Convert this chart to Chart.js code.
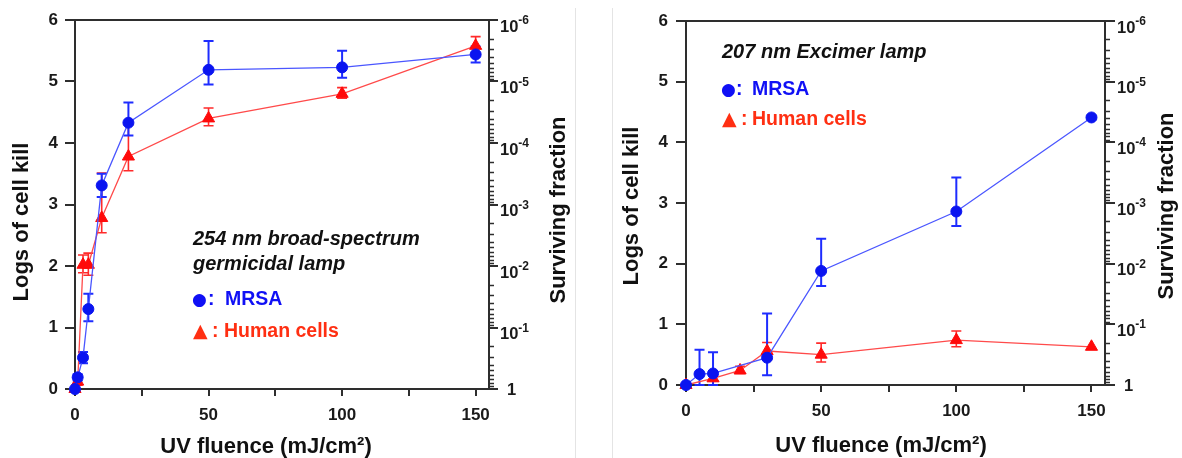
<!DOCTYPE html>
<html><head><meta charset="utf-8">
<script src="https://cdn.jsdelivr.net/npm/chart.js@4"></script>
<style>
html,body{margin:0;padding:0;background:#fff;}
#wrap{position:relative;width:1182px;height:458px;overflow:hidden;background:#fff;}
.panel{position:absolute;top:0;height:458px;width:577px;}
#p1{left:0;} #p2{left:605px;}
.sep{position:absolute;top:8px;bottom:0;width:1px;background:#e4e4e4;}
</style></head><body>
<div id="wrap">
<div class="panel" id="p1"><canvas id="c1" width="577" height="458" style="width:577px;height:458px"></canvas></div>
<div class="panel" id="p2"><canvas id="c2" width="577" height="458" style="width:577px;height:458px"></canvas></div>
<div class="sep" style="left:575px"></div>
<div class="sep" style="left:612px"></div>
</div>
<script>
// ---------- data: 254 nm broad-spectrum germicidal lamp ----------
const fluence254Mrsa  = [0, 1, 3, 5, 10, 20, 50, 100, 150];
const kill254Mrsa     = [0, 0.19, 0.51, 1.30, 3.31, 4.33, 5.19, 5.23, 5.44];
const hi254Mrsa       = [null, 0.24, 0.60, 1.55, 3.50, 4.66, 5.66, 5.50, 5.57];
const lo254Mrsa       = [null, 0.14, 0.42, 1.10, 3.12, 4.12, 4.95, 5.06, 5.31];
const fluence254Human = [0, 1, 3, 5, 10, 20, 50, 100, 150];
const kill254Human    = [0, 0.12, 2.02, 2.02, 2.78, 3.78, 4.40, 4.80, 5.58];
const hi254Human      = [null, 0.18, 2.18, 2.21, 3.51, 4.30, 4.57, 4.90, 5.73];
const lo254Human      = [null, 0.06, 1.89, 1.85, 2.54, 3.55, 4.28, 4.73, 5.45];
// ---------- data: 207 nm Excimer lamp ----------
const fluence207Mrsa  = [0, 5, 10, 30, 50, 100, 150];
const kill207Mrsa     = [0, 0.18, 0.19, 0.45, 1.88, 2.86, 4.41];
const hi207Mrsa       = [null, 0.58, 0.54, 1.18, 2.41, 3.42, 4.44];
const lo207Mrsa       = [null, 0, 0, 0.16, 1.63, 2.62, 4.38];
const fluence207Human = [0, 10, 20, 30, 50, 100, 150];
const kill207Human    = [0, 0.11, 0.24, 0.56, 0.50, 0.74, 0.63];
const hi207Human      = [null, 0.15, 0.31, 0.70, 0.69, 0.89, null];
const lo207Human      = [null, 0.07, 0.19, 0.42, 0.38, 0.63, null];
// ---------- ticks ----------
const xTicks        = [0, 25, 50, 75, 100, 125, 150];
const xTickLabels   = ['0', '', '50', '', '100', '', '150'];
const killTicks     = [0, 1, 2, 3, 4, 5, 6];
const killLabels    = ['0', '1', '2', '3', '4', '5', '6'];
const survBase      = ['1', '10', '10', '10', '10', '10', '10'];
const survExp       = ['', '-1', '-2', '-3', '-4', '-5', '-6'];
const survMinorMult = [2, 3, 4, 5, 6, 7, 8, 9];

const FONT = '"Liberation Sans", Arial, Helvetica, sans-serif';
const SYM = '"DejaVu Sans", "Liberation Sans", sans-serif';
Chart.defaults.font.family = FONT;
const AX = '#2e2e2e';
const BLUE_PT = '#0a14f0', BLUE_LN = '#4a56ff', BLUE_EB = '#1e2cff';
const RED_PT = '#ff0a0a', RED_LN = '#ff4a4a', RED_EB = '#ff2a2a';
const BLUE_TXT = '#1010f5', RED_TXT = '#ff2f12';

function makeDecor(cfg) {
  return {
    id: 'decor',
    beforeDatasetsDraw(chart) {
      const ctx = chart.ctx, xs = chart.scales.x, ys = chart.scales.y;
      const sets = [
        {x: cfg.humanX, hi: cfg.humanHi, lo: cfg.humanLo, color: RED_EB, w: 1.6},
        {x: cfg.mrsaX, hi: cfg.mrsaHi, lo: cfg.mrsaLo, color: BLUE_EB, w: 2}
      ];
      sets.forEach(s => {
        ctx.save();
        ctx.strokeStyle = s.color; ctx.lineWidth = s.w;
        s.x.forEach((xv, i) => {
          if (s.hi[i] == null) return;
          const px = xs.getPixelForValue(xv);
          const ph = ys.getPixelForValue(s.hi[i]);
          const pl = ys.getPixelForValue(s.lo[i]);
          ctx.beginPath();
          ctx.moveTo(px, ph); ctx.lineTo(px, pl);
          ctx.moveTo(px - 5, ph); ctx.lineTo(px + 5, ph);
          ctx.moveTo(px - 5, pl); ctx.lineTo(px + 5, pl);
          ctx.stroke();
        });
        ctx.restore();
      });
    },
    afterDraw(chart) {
      const ctx = chart.ctx, ca = chart.chartArea, y2 = chart.scales.y2;
      ctx.save();
      // top frame line
      ctx.strokeStyle = AX; ctx.lineWidth = 2;
      ctx.beginPath(); ctx.moveTo(ca.left - 1, ca.top); ctx.lineTo(ca.right + 1, ca.top); ctx.stroke();
      // minor log ticks on surviving-fraction axis
      ctx.lineWidth = 1.5;
      for (let n = 0; n < 6; n++) {
        survMinorMult.forEach(m => {
          const py = Math.round(y2.getPixelForValue(n + 1 - Math.log10(m))) + 0.5;
          ctx.beginPath(); ctx.moveTo(ca.right, py); ctx.lineTo(ca.right + 5, py); ctx.stroke();
        });
      }
      // surviving-fraction tick labels with superscripts
      ctx.fillStyle = '#1a1a1a';
      ctx.textAlign = 'left';
      ctx.textBaseline = 'alphabetic';
      const lx = ca.right + cfg.y2TickLen + cfg.y2Pad;
      y2.ticks.forEach((t, i) => {
        const py = y2.getPixelForValue(t.value);
        ctx.font = 'bold 16.5px ' + FONT;
        if (survExp[i] === '') {
          ctx.fillText(survBase[i], lx + 7, py + 6);
        } else {
          ctx.fillText(survBase[i], lx, py + 11.5);
          const w = ctx.measureText(survBase[i]).width;
          ctx.font = 'bold 12px ' + FONT;
          ctx.fillText(survExp[i], lx + w, py + 4);
        }
      });
      // axis titles
      ctx.fillStyle = '#111';
      ctx.font = 'bold 22px ' + FONT;
      ctx.textAlign = 'center';
      ctx.fillText('UV fluence (mJ/cm²)', cfg.xTitle.x, cfg.xTitle.y);
      [[cfg.yTitle, 'Logs of cell kill'], [cfg.y2Title, 'Surviving fraction']].forEach(([p, t]) => {
        ctx.save(); ctx.translate(p.x, p.y); ctx.rotate(-Math.PI / 2);
        ctx.fillText(t, 0, 0); ctx.restore();
      });
      // annotation
      ctx.textAlign = 'left';
      ctx.font = 'italic bold 20px ' + FONT;
      cfg.notes.forEach(n => ctx.fillText(n.text, n.x, n.y));
      // legend text
      const L = cfg.legend;
      ctx.fillStyle = BLUE_TXT;
      ctx.font = '17px ' + SYM;
      ctx.fillText('●', L.x - 1, L.mrsaY);
      ctx.font = 'bold 19.5px ' + FONT;
      ctx.fillText(':', L.x + L.c1, L.mrsaY);
      ctx.fillText('MRSA', L.x + L.m1, L.mrsaY);
      ctx.fillStyle = RED_TXT;
      ctx.font = '19px ' + SYM;
      ctx.fillText('▲', L.x, L.humanY);
      ctx.font = 'bold 19.5px ' + FONT;
      ctx.fillText(':', L.x + L.c2, L.humanY);
      ctx.fillText('Human cells', L.x + L.m2, L.humanY);
      ctx.restore();
    }
  };
}

function makeChart(id, cfg) {
  const tickFont = {size: 17, weight: 'bold'};
  new Chart(document.getElementById(id), {
    type: 'line',
    data: {
      datasets: [
        {
          data: cfg.mrsaX.map((x, i) => ({x: x, y: cfg.mrsaY[i]})),
          borderColor: BLUE_LN, borderWidth: 1.3, tension: 0, clip: false,
          pointStyle: 'circle', pointRadius: 5.5,
          pointBackgroundColor: BLUE_PT, pointBorderColor: BLUE_PT, pointBorderWidth: 1
        },
        {
          data: cfg.humanX.map((x, i) => ({x: x, y: cfg.humanY[i]})),
          borderColor: RED_LN, borderWidth: 1.3, tension: 0, clip: false,
          pointStyle: 'triangle', pointRadius: 7,
          pointBackgroundColor: RED_PT, pointBorderColor: RED_PT, pointBorderWidth: 1
        }
      ]
    },
    options: {
      responsive: false, animation: false, devicePixelRatio: 1,
      layout: {padding: {top: cfg.top, left: 0, right: 0, bottom: 0}},
      plugins: {legend: {display: false}, tooltip: {enabled: false}},
      scales: {
        x: {
          type: 'linear', position: 'bottom', min: 0, max: 155,
          afterBuildTicks: s => { s.ticks = xTicks.map(v => ({value: v})); },
          afterFit: s => { s.height = cfg.xH; },
          ticks: {
            autoSkip: false, maxRotation: 0, font: tickFont, color: '#1a1a1a', padding: cfg.xPad,
            callback: (v, i) => xTickLabels[i]
          },
          grid: {display: true, drawOnChartArea: false, drawTicks: true, tickLength: 7, color: AX, lineWidth: 2},
          border: {display: true, color: AX, width: 2}
        },
        y: {
          type: 'linear', position: 'left', min: 0, max: 6,
          afterBuildTicks: s => { s.ticks = killTicks.map(v => ({value: v})); },
          afterFit: s => { s.width = cfg.yW; },
          ticks: {
            autoSkip: false, font: tickFont, color: '#1a1a1a', padding: cfg.yPad,
            callback: (v, i) => killLabels[i]
          },
          grid: {display: true, drawOnChartArea: false, drawTicks: true, tickLength: cfg.yTickLen, color: AX, lineWidth: 2},
          border: {display: true, color: AX, width: 2}
        },
        y2: {
          type: 'linear', position: 'right', min: 0, max: 6,
          afterBuildTicks: s => { s.ticks = killTicks.map(v => ({value: v})); },
          afterFit: s => { s.width = cfg.y2W; },
          ticks: {display: false, autoSkip: false},
          grid: {display: true, drawOnChartArea: false, drawTicks: true, tickLength: cfg.y2TickLen, color: AX, lineWidth: 2},
          border: {display: true, color: AX, width: 2}
        }
      }
    },
    plugins: [makeDecor(cfg)]
  });
}

makeChart('c1', {
  mrsaX: fluence254Mrsa, mrsaY: kill254Mrsa, mrsaHi: hi254Mrsa, mrsaLo: lo254Mrsa,
  humanX: fluence254Human, humanY: kill254Human, humanHi: hi254Human, humanLo: lo254Human,
  top: 20, yW: 75, y2W: 88, xH: 69, yTickLen: 10, yPad: 7, y2TickLen: 9, y2Pad: 2, xPad: 9,
  yTitle: {x: 28, y: 222}, y2Title: {x: 565, y: 210}, xTitle: {x: 266, y: 453},
  notes: [{text: '254 nm broad-spectrum', x: 193, y: 245}, {text: 'germicidal lamp', x: 193, y: 270}],
  legend: {x: 193, mrsaY: 305, humanY: 336.5, c1: 15, m1: 32, c2: 19, m2: 31}
});
makeChart('c2', {
  mrsaX: fluence207Mrsa, mrsaY: kill207Mrsa, mrsaHi: hi207Mrsa, mrsaLo: lo207Mrsa,
  humanX: fluence207Human, humanY: kill207Human, humanHi: hi207Human, humanLo: lo207Human,
  top: 21, yW: 81, y2W: 77, xH: 73, yTickLen: 10, yPad: 8, y2TickLen: 10, y2Pad: 2, xPad: 9,
  yTitle: {x: 33, y: 206}, y2Title: {x: 568, y: 206}, xTitle: {x: 276, y: 452},
  notes: [{text: '207 nm Excimer lamp', x: 117, y: 58}],
  legend: {x: 117, mrsaY: 95, humanY: 125, c1: 14, m1: 30, c2: 19, m2: 30}
});
</script>
</body></html>
